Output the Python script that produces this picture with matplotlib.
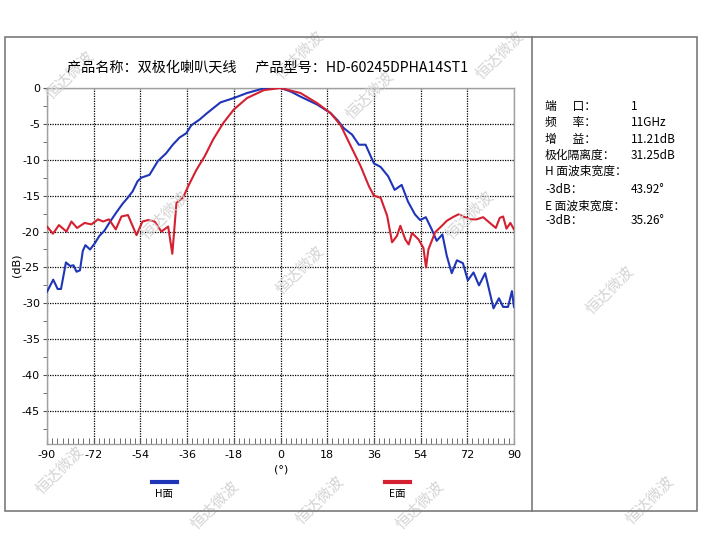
# Radiation pattern of a dual-polarized horn antenna (H / E plane)

import matplotlib
matplotlib.use('Agg')
import matplotlib.pyplot as plt
from matplotlib.patches import Rectangle
from matplotlib.lines import Line2D
from matplotlib.ticker import MultipleLocator

plt.rcParams['font.family'] = ['Noto Sans CJK SC', 'DejaVu Sans']
plt.rcParams['axes.unicode_minus'] = False

# H-plane pattern (angle in degrees, level in dB)
h_deg = [-90, -87.6, -85.9, -84.6, -82.7, -81.1, -79.8, -78.6, -77.3, -76.2,
         -75.2, -73.4, -71.7, -69.8, -67.9, -66, -63.4, -60.8, -58.9, -57,
         -55.1, -53.7, -50.5, -47.3, -44.1, -41.5, -38.9, -36.3, -34.4, -31.2,
         -28.3, -23.1, -18, -12.9, -6.4, -2.6, 0, 4, 7.7, 14.1,
         19.3, 22, 24.4, 27.6, 30.2, 32.8, 36, 38.6, 41.5, 44,
         46.7, 49.1, 51.8, 53.8, 56, 58.3, 60.2, 62.4, 64.1, 66,
         68, 70.3, 72.2, 74.4, 76.5, 78.9, 82.1, 84.2, 85.8, 87.7,
         89.2, 90]
h_db = [-28.4, -26.7, -28.0, -28.0, -24.3, -24.8, -24.7, -25.6, -25.4, -22.7,
        -21.9, -22.5, -21.7, -20.6, -19.9, -18.8, -17.4, -16.1, -15.3, -14.4,
        -13.0, -12.5, -12.1, -10.2, -9.1, -7.9, -6.9, -6.3, -5.2, -4.4,
        -3.5, -2.0, -1.4, -0.7, -0.05, 0, 0, -0.5, -1.2, -2.3,
        -3.5, -4.5, -5.6, -6.5, -7.9, -7.9, -10.5, -11.0, -12.3, -14.2,
        -13.5, -15.8, -17.6, -18.4, -18.0, -19.7, -21.3, -20.4, -23.4, -25.8,
        -24.0, -24.4, -26.8, -25.7, -27.5, -25.8, -30.7, -29.3, -30.5, -30.5,
        -28.3, -30.5]

# E-plane pattern
e_deg = [-90, -87.7, -85.4, -82.5, -80.6, -78.4, -75.5, -72.9, -70.3, -68.4,
         -66.1, -63.5, -61.3, -58.8, -55.5, -53.2, -51.0, -48.5, -45.9, -43.3,
         -41.7, -40.1, -37.6, -35.6, -32.4, -29.2, -26, -22.1, -18, -12.9,
         -6.4, 0, 7.7, 14.1, 19.3, 23.2, 27.1, 30.9, 34.1, 36,
         38.6, 41.1, 43, 44.9, 46.2, 48.1, 49.4, 50.7, 53.2, 55.1,
         56.1, 57.0, 59.6, 62.2, 64.1, 66.4, 68.6, 71.1, 73.3, 75.6,
         78.1, 80.7, 83, 84.5, 85.8, 87.1, 88.6, 90]
e_db = [-19.3, -20.3, -19.1, -20.0, -18.6, -19.5, -18.8, -19.0, -18.3, -18.6,
        -18.3, -19.7, -17.9, -17.7, -20.5, -18.6, -18.4, -18.6, -20.0, -19.3,
        -23.1, -16.0, -15.3, -13.7, -11.4, -9.5, -7.2, -4.9, -3.0, -1.4,
        -0.3, 0, -0.7, -2.1, -3.5, -5.2, -8.1, -10.9, -13.7, -15,
        -15.3, -17.8, -21.5, -20.6, -19.2, -21.1, -21.8, -20.2, -21.1, -22.3,
        -25.0, -22.5, -20.1, -19.2, -18.5, -18.0, -17.6, -18.0, -18.3, -18.3,
        -18.0, -18.8, -19.5, -18.1, -17.9, -19.6, -18.8, -19.7]

title = '产品名称：双极化喇叭天线      产品型号：HD-60245DPHA14ST1'
info_labels = ['端      口：', '频      率：', '增      益：', '极化隔离度：',
               'H 面波束宽度：', '-3dB：', 'E 面波束宽度：', '-3dB：']
info_values = ['1', '11GHz', '11.21dB', '31.25dB', '', '43.92°', '', '35.26°']

W, H = 702, 550
fig = plt.figure(figsize=(W / 100, H / 100), dpi=100)

def fx(px):
    return px / W

def fy(py):
    return 1 - py / H

# outer frame and divider
fig.add_artist(Rectangle((fx(5), fy(511)), fx(692), (511 - 37) / H,
                         fill=False, ec='#7a7a7a', lw=1.2, transform=fig.transFigure))
fig.add_artist(Line2D([fx(532), fx(532)], [fy(37), fy(511)],
                      color='#7a7a7a', lw=1.2, transform=fig.transFigure))

# watermarks
marks = [(70, 75), (300, 55), (370, 95), (500, 55), (165, 215), (300, 270),
         (470, 215), (610, 290), (215, 505), (320, 500), (650, 500),
         (60, 470), (420, 505)]
for mx, my in marks:
    fig.text(fx(mx), fy(my), '恒达微波', rotation=45, fontsize=11,
             color='#d4d4d4', ha='center', va='center', zorder=0)

ax = fig.add_axes([fx(47), fy(444), fx(514 - 47), (444 - 88) / H])
ax.plot(h_deg, h_db, color='#1f35b8', lw=1.5, zorder=3)
ax.plot(e_deg, e_db, color='#d42030', lw=1.5, zorder=3)

ax.set_xlim(-90, 90)
ax.set_ylim(-49.6, 0)
ax.set_xticks(range(-90, 91, 18))
ax.set_yticks(range(-45, 1, 5))
ax.xaxis.set_minor_locator(MultipleLocator(2))
ax.yaxis.set_minor_locator(MultipleLocator(2.5))
ax.grid(True, which='major', color='black', ls=(0, (1, 1)), lw=0.9)
ax.tick_params(axis='x', which='both', direction='in', length=4, color='#555555',
               labelsize=8, pad=4)
ax.tick_params(axis='y', which='both', direction='out', length=3, color='#555555',
               labelsize=8, pad=2)
for lbl in ax.get_xticklabels() + ax.get_yticklabels():
    lbl.set_family('DejaVu Sans')
for sp in ax.spines.values():
    sp.set_color('#a0a0a0')
    sp.set_linewidth(1)

fig.text(fx(268), fy(68), title, fontsize=10.2, ha='center', va='center')
fig.text(fx(17), fy(265), '(dB)', fontsize=8, rotation=90, ha='center', va='center',
         family='DejaVu Sans')
fig.text(fx(281), fy(470), '(°)', fontsize=8, ha='center', va='center',
         family='DejaVu Sans')

# legend entries below the plot
fig.add_artist(Line2D([fx(152), fx(177)], [fy(482), fy(482)], color='#1f35b8',
                      lw=3, transform=fig.transFigure))
fig.text(fx(164), fy(494), 'H面', fontsize=7.5, ha='center', va='center')
fig.add_artist(Line2D([fx(385), fx(410)], [fy(482), fy(482)], color='#d42030',
                      lw=3, transform=fig.transFigure))
fig.text(fx(397), fy(494), 'E面', fontsize=7.5, ha='center', va='center')

# info panel
rows_y = [106.7, 122.7, 139.3, 155.3, 170.7, 189.3, 206, 220.7]
for yy, lab, val in zip(rows_y, info_labels, info_values):
    fig.text(fx(545), fy(yy), lab, fontsize=8.5, ha='left', va='center')
    if val:
        fig.text(fx(631), fy(yy), val, fontsize=8.5, ha='left', va='center')

fig.savefig('out.png', dpi=100)
